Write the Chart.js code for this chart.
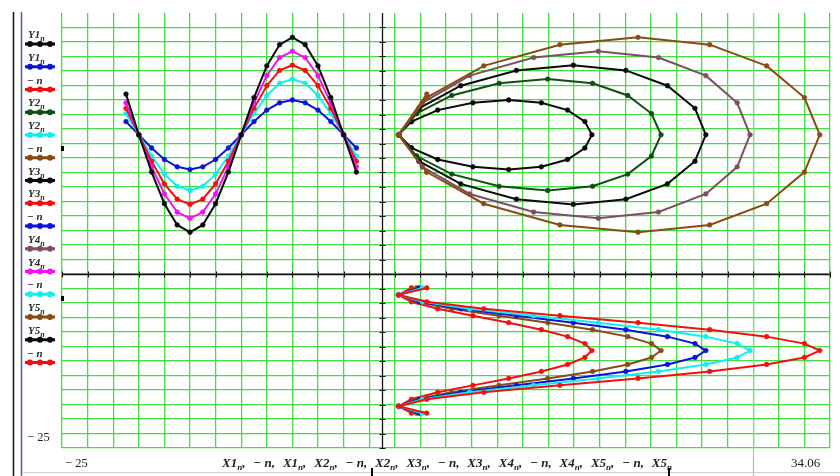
<!DOCTYPE html>
<html><head><meta charset="utf-8">
<script src="https://cdn.jsdelivr.net/npm/chart.js@4.4.0/dist/chart.umd.min.js"></script>
<style>html,body{margin:0;padding:0;background:#fff;overflow:hidden;} canvas{display:block;}</style>
</head><body>
<canvas id="c" width="840" height="476"></canvas>
<script>
// ---- data (n = 2 .. 20) ----
const N_INDEX = [2,3,4,5,6,7,8,9,10,11,12,13,14,15,16,17,18,19,20];
const NEG_N   = [-2,-3,-4,-5,-6,-7,-8,-9,-10,-11,-12,-13,-14,-15,-16,-17,-18,-19,-20];

const X1 = [2.3, 1.3, 2.3, 4.35, 7.1, 9.9, 12.45, 14.5, 15.85, 16.4, 15.85, 14.5, 12.45, 9.9, 7.1, 4.35, 2.3, 1.3, 2.3];
const X2 = [2.7, 1.3, 2.7, 5.45, 9.15, 12.95, 16.45, 19.2, 21.05, 21.8, 21.05, 19.2, 16.45, 12.95, 9.15, 5.45, 2.7, 1.3, 2.7];
const X3 = [2.9, 1.3, 2.9, 6.15, 10.5, 14.95, 19.05, 22.3, 24.45, 25.3, 24.45, 22.3, 19.05, 14.95, 10.5, 6.15, 2.9, 1.3, 2.9];
const X4 = [3.15, 1.3, 3.15, 6.85, 11.85, 16.9, 21.6, 25.3, 27.75, 28.75, 27.75, 25.3, 21.6, 16.9, 11.85, 6.85, 3.15, 1.3, 3.15];
const X5 = [3.5, 1.3, 3.5, 7.95, 13.9, 20.0, 25.6, 30.05, 33.0, 34.2, 33.0, 30.05, 25.6, 20.0, 13.9, 7.95, 3.5, 1.3, 3.5];

const Y1 = [18.1, 20, 21.9, 23.55, 24.6, 25, 24.6, 23.55, 21.9, 20, 18.1, 16.45, 15.4, 15, 15.4, 16.45, 18.1, 20, 21.9];
const Y2 = [16.95, 20, 23.05, 25.65, 27.4, 28, 27.4, 25.65, 23.05, 20, 16.95, 14.35, 12.6, 12, 12.6, 14.35, 16.95, 20, 23.05];
const Y3 = [16.2, 20, 23.8, 27.05, 29.25, 30, 29.25, 27.05, 23.8, 20, 16.2, 12.95, 10.75, 10, 10.75, 12.95, 16.2, 20, 23.8];
const Y4 = [15.4, 20, 24.6, 28.5, 31.1, 32, 31.1, 28.5, 24.6, 20, 15.4, 11.5, 8.9, 8, 8.9, 11.5, 15.4, 20, 24.6];
const Y5 = [14.65, 20, 25.35, 29.9, 32.95, 34, 32.95, 29.9, 25.35, 20, 14.65, 10.1, 7.05, 6, 7.05, 10.1, 14.65, 20, 25.85];

// axis limits / labels
const X_MIN = -25, X_MAX = 35;
const Y_MIN = -25, Y_MAX = 37.5;
const X_MIN_LABEL = '\u2212 25';
const X_MAX_LABEL = '34.06';
const Y_MIN_LABEL = '\u2212 25';

// traces
const TRACE_X = [X1, NEG_N, X1, X2, NEG_N, X2, X3, NEG_N, X3, X4, NEG_N, X4, X5, NEG_N, X5];
const TRACE_Y = [Y1, Y1, NEG_N, Y2, Y2, NEG_N, Y3, Y3, NEG_N, Y4, Y4, NEG_N, Y5, Y5, NEG_N];
const LEGEND_MAIN = ['Y1','Y1','\u2212 n','Y2','Y2','\u2212 n','Y3','Y3','\u2212 n','Y4','Y4','\u2212 n','Y5','Y5','\u2212 n'];
const LEGEND_SUB  = ['n','n','','n','n','','n','n','','n','n','','n','n',''];
const X_AXIS_MAIN = ['X1','\u2212 n','X1','X2','\u2212 n','X2','X3','\u2212 n','X3','X4','\u2212 n','X4','X5','\u2212 n','X5'];
const X_AXIS_SUB  = ['n','','n','n','','n','n','','n','n','','n','n','','n'];

// ---- styles ----
const COLORS = ['#0a0a0a','#0a14d8','#f01010','#0f4f12','#10eef0','#8a4a16','#0a0a0a','#f01010','#0a14d8','#7e4e60','#f010f0','#10eef0','#8a4a16','#0a0a0a','#f01010'];
const GRID_COLOR = '#44de44';

function toPoints(xs, ys){ return xs.map((v,i)=>({x:v, y:ys[i]})); }

const datasets = TRACE_X.map((xs,i)=>({
  label: LEGEND_MAIN[i] + LEGEND_SUB[i],
  data: toPoints(xs, TRACE_Y[i]),
  showLine: true,
  borderColor: COLORS[i],
  backgroundColor: COLORS[i],
  pointBackgroundColor: COLORS[i],
  pointBorderColor: COLORS[i],
  pointRadius: 2.4,
  pointBorderWidth: 0.5,
  borderWidth: 2,
  tension: 0,
  order: TRACE_X.length - i
}));

function uniformTicks(min, max, div, includeMax){
  const t = [];
  const last = includeMax ? div : div - 1;
  for (let k = 0; k <= last; k++) t.push({value: min + (max - min) * k / div});
  return t;
}

function drawSub(ctx, x, y, main, sub, font, subFont){
  ctx.font = font; ctx.fillText(main, x, y);
  let w = ctx.measureText(main).width;
  if (sub){ ctx.font = subFont; ctx.fillText(sub, x + w, y + 3); w += ctx.measureText(sub).width; }
  return w;
}

const decor = {
  id: 'decor',
  beforeDraw(chart){
    const ctx = chart.ctx; ctx.save(); ctx.fillStyle = '#fff'; ctx.fillRect(0,0,chart.width,chart.height); ctx.restore();
  },
  beforeDatasetsDraw(chart){
    const {ctx, chartArea:a, scales:{x, y}} = chart;
    ctx.save();
    ctx.strokeStyle = '#b8b8b8'; ctx.lineWidth = 1.2;
    ctx.beginPath(); ctx.moveTo(753.5, a.top); ctx.lineTo(753.5, 476); ctx.stroke();
    const x0 = Math.round(x.getPixelForValue(0)) + 0.5, y0 = Math.round(y.getPixelForValue(0)) + 0.5;
    ctx.strokeStyle = '#111'; ctx.lineWidth = 1.3;
    ctx.beginPath(); ctx.moveTo(a.left, y0); ctx.lineTo(a.right, y0); ctx.moveTo(x0, a.top); ctx.lineTo(x0, a.bottom); ctx.stroke();
    ctx.lineWidth = 1;
    ctx.beginPath();
    x.ticks.forEach(t => { const p = Math.round(x.getPixelForValue(t.value)) + 0.5; ctx.moveTo(p, y0 - 3); ctx.lineTo(p, y0 + 3); });
    y.ticks.forEach(t => { const p = Math.round(y.getPixelForValue(t.value)) + 0.5; ctx.moveTo(x0 - 3, p); ctx.lineTo(x0 + 3, p); });
    ctx.stroke();
    ctx.restore();
  },
  afterDraw(chart){
    const {ctx, chartArea:a} = chart;
    ctx.save();
    ctx.strokeStyle = '#111'; ctx.lineWidth = 1.5;
    ctx.beginPath(); ctx.moveTo(13.5, a.top - 1); ctx.lineTo(13.5, 476); ctx.stroke();
    ctx.strokeStyle = '#5a5aa8'; ctx.lineWidth = 1.5;
    ctx.beginPath(); ctx.moveTo(21.5, a.top - 1); ctx.lineTo(21.5, 476); ctx.stroke();
    ctx.strokeStyle = '#d0d0d0'; ctx.lineWidth = 1;
    ctx.beginPath(); ctx.moveTo(22, 472.5); ctx.lineTo(840, 472.5); ctx.stroke();
    ctx.fillStyle = '#000';
    ctx.fillRect(61, 146, 3, 5);
    ctx.fillRect(61, 296, 3, 5);
    ctx.fillRect(371, 468, 2, 8);
    ctx.fillRect(668, 468, 2, 8);

    // legend
    ctx.textBaseline = 'alphabetic';
    for (let i = 0; i < LEGEND_MAIN.length; i++){
      const ly = 44 + i * 22.75;
      const col = chart.data.datasets[i].borderColor;
      ctx.fillStyle = '#2a2a2a';
      const xs = LEGEND_SUB[i] ? 28 : 27;
      drawSub(ctx, xs, ly - 6, LEGEND_MAIN[i], LEGEND_SUB[i], 'italic bold 11px "Liberation Serif"', 'italic bold 8px "Liberation Serif"');
      ctx.strokeStyle = col; ctx.lineWidth = 3;
      ctx.beginPath(); ctx.moveTo(25, ly); ctx.lineTo(55, ly); ctx.stroke();
      ctx.fillStyle = col;
      [30, 40, 50].forEach(px => { ctx.beginPath(); ctx.arc(px, ly, 3, 0, Math.PI*2); ctx.fill(); });
    }

    // axis limit labels
    ctx.fillStyle = '#222';
    ctx.font = '12.5px "Liberation Serif"';
    ctx.fillText(Y_MIN_LABEL, 27, 441);
    ctx.fillText(X_MIN_LABEL, 65, 467);
    ctx.font = '13px "Liberation Serif"';
    ctx.fillText(X_MAX_LABEL, 791, 467);

    // x axis title with subscripts, spread over ~450px
    const F = 'italic bold 13px "Liberation Serif"', SF = 'italic bold 9px "Liberation Serif"';
    let total = 0;
    for (let i = 0; i < X_AXIS_MAIN.length; i++){
      ctx.font = F; total += ctx.measureText(X_AXIS_MAIN[i] + (i < X_AXIS_MAIN.length - 1 ? ',' : '')).width;
      if (X_AXIS_SUB[i]){ ctx.font = SF; total += ctx.measureText(X_AXIS_SUB[i]).width; }
    }
    const gap = Math.max(3, (450 - total) / (X_AXIS_MAIN.length - 1));
    let tx = 222;
    for (let i = 0; i < X_AXIS_MAIN.length; i++){
      tx += drawSub(ctx, tx, 467, X_AXIS_MAIN[i], X_AXIS_SUB[i], F, SF);
      if (i < X_AXIS_MAIN.length - 1){ ctx.font = F; ctx.fillText(',', tx, 467); tx += ctx.measureText(',').width + gap; }
    }
    ctx.restore();
  }
};

new Chart(document.getElementById('c'), {
  type: 'scatter',
  data: { datasets },
  options: {
    responsive: false, animation: false, devicePixelRatio: 1,
    layout: { padding: { left: 62, right: 10, top: 13, bottom: 28 } },
    plugins: { legend: { display: false }, tooltip: { enabled: false } },
    scales: {
      x: {
        type: 'linear', min: X_MIN, max: X_MAX,
        afterBuildTicks: s => { s.ticks = uniformTicks(X_MIN, X_MAX, 30, true); },
        ticks: { display: false },
        grid: { color: GRID_COLOR, lineWidth: 1.3, drawTicks: false },
        border: { display: false }
      },
      y: {
        type: 'linear', min: Y_MIN, max: Y_MAX,
        afterBuildTicks: s => { s.ticks = uniformTicks(Y_MIN, Y_MAX, 30, false); },
        ticks: { display: false },
        grid: { color: GRID_COLOR, lineWidth: 1.3, drawTicks: false },
        border: { display: false }
      }
    }
  },
  plugins: [decor]
});
</script>
</body></html>
